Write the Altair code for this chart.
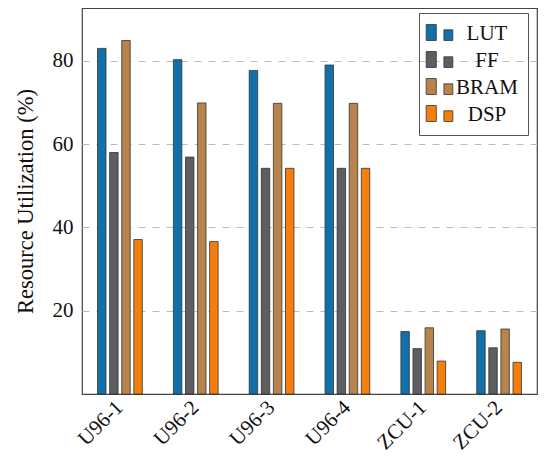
import altair as alt
import pandas as pd

configs = ["U96-1", "U96-2", "U96-3", "U96-4", "ZCU-1", "ZCU-2"]
resources = ["LUT", "FF", "BRAM", "DSP"]
lut = [83.0, 80.3, 77.7, 79.0, 15.0, 15.2]
ff = [58.0, 56.9, 54.2, 54.2, 10.9, 11.1]
bram = [84.9, 69.9, 69.8, 69.8, 15.9, 15.6]
dsp = [37.1, 36.6, 54.2, 54.2, 7.9, 7.6]
colors = ["#1170aa", "#5d5d62", "#b8834d", "#f57f0c"]
y_ticks = [20, 40, 60, 80]

rows = []
for res, vals in zip(resources, [lut, ff, bram, dsp]):
    for c, v in zip(configs, vals):
        rows.append({"config": c, "resource": res, "value": v})
df = pd.DataFrame(rows)

FONT = "Liberation Serif"
sym = "M-1.33,-0.9H-0.32V0.7H-1.33Z M0.44,-0.37H1.33V0.7H0.44Z"

chart = alt.Chart(df).mark_bar(stroke="#333333", strokeWidth=0.8).encode(
    x=alt.X("config:N", sort=configs,
            scale=alt.Scale(paddingInner=0.41, paddingOuter=0.205),
            axis=alt.Axis(title=None, labelAngle=-45, labelAlign="right",
                          labelBaseline="middle", labelPadding=10, ticks=False,
                          domain=False, labelFont=FONT, labelFontSize=21,
                          labelColor="#111111")),
    xOffset=alt.XOffset("resource:N", sort=resources,
                        scale=alt.Scale(paddingInner=0.3)),
    y=alt.Y("value:Q", scale=alt.Scale(domain=[0, 92.7], nice=False),
            axis=alt.Axis(values=y_ticks, title="Resource Utilization (%)",
                          titleFont=FONT, titleFontSize=22.5, titleFontWeight="normal",
                          titleColor="#111111", titlePadding=15,
                          labelFont=FONT, labelFontSize=21, labelColor="#111111",
                          labelPadding=9, ticks=False, domain=False,
                          grid=True, gridColor="#bbbbbb", gridDash=[7, 7],
                          gridWidth=1)),
    color=alt.Color("resource:N", sort=resources,
                    scale=alt.Scale(domain=resources, range=colors),
                    legend=alt.Legend(title=None, orient="none", legendX=337,
                                      legendY=5, symbolType=sym, symbolSize=400,
                                      symbolStrokeColor="#333333",
                                      symbolStrokeWidth=0.8,
                                      labelFont=FONT, labelFontSize=21,
                                      labelColor="#111111", labelAlign="center",
                                      labelOffset=37, rowPadding=5,
                                      strokeColor="#555555", padding=10,
                                      labelLimit=200)),
).properties(
    width=455, height=386,
    autosize=alt.AutoSizeParams(type="none"),
    padding={"left": 74, "top": 0, "right": 1, "bottom": 61},
).configure_view(stroke="#444444", strokeWidth=1.2)

chart.save("out.html", embed_options={"renderer": "svg", "actions": False})
